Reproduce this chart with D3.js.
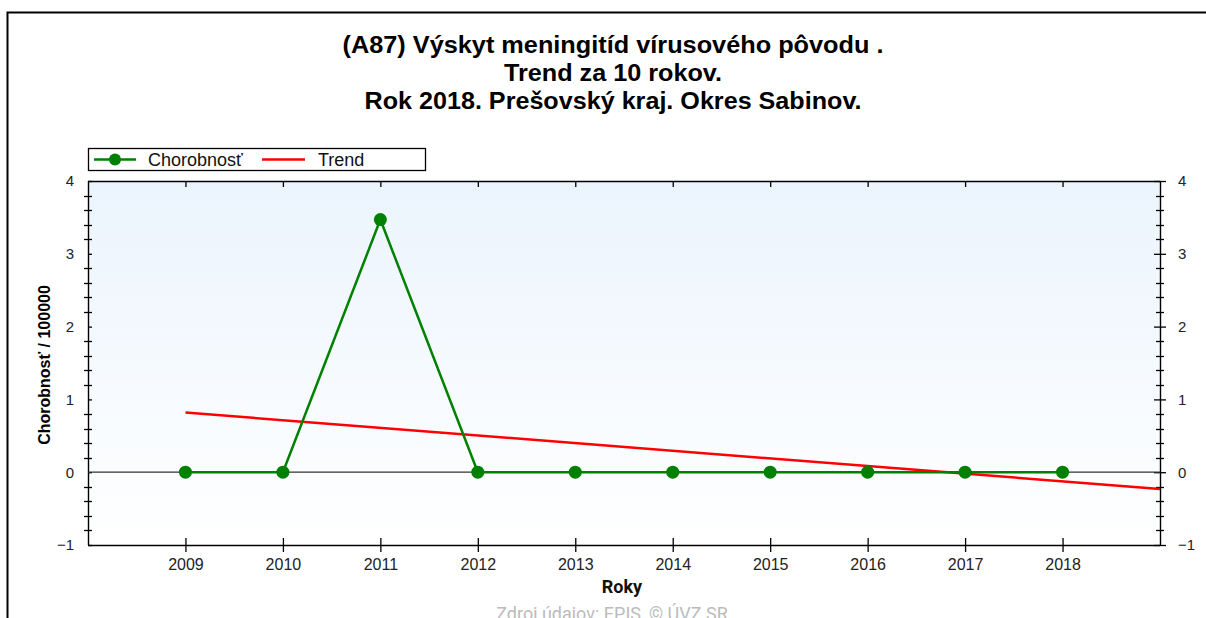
<!DOCTYPE html>
<html>
<head>
<meta charset="utf-8">
<script src="https://cdn.jsdelivr.net/npm/d3@7"></script>
<style>
  html, body { margin: 0; padding: 0; background: #ffffff; }
  svg { display: block; }
</style>
</head>
<body>
<svg id="chart" width="1206" height="618"></svg>
<script>
// Chart data
const years = [2009, 2010, 2011, 2012, 2013, 2014, 2015, 2016, 2017, 2018];
const incidence = [0, 0, 3.47, 0, 0, 0, 0, 0, 0, 0];
const trendYears = [2009, 2019];
const trendValues = [0.82, -0.23];
const yTicks = [-1, 0, 1, 2, 3, 4];
const titleLines = [
  "(A87) Výskyt meningitíd vírusového pôvodu .",
  "Trend za 10 rokov.",
  "Rok 2018. Prešovský kraj. Okres Sabinov."
];
const titleWidths = [541, 218, 497];

const svg = d3.select("#chart");
const W = 1206, H = 618;
const plot = { left: 88, right: 1160, top: 181, bottom: 545 };

const x = d3.scaleLinear().domain([2008, 2019]).range([plot.left, plot.right]);
const y = d3.scaleLinear().domain([-1, 4]).range([plot.bottom, plot.top]);

const font = "Liberation Sans, Arial, sans-serif";

// Outer frame
svg.append("path")
  .attr("d", `M7.5,${H} V12.5 H${W}`)
  .attr("fill", "none").attr("stroke", "#000").attr("stroke-width", 2);

// Title
svg.append("g").selectAll("text").data(titleLines).join("text")
  .attr("x", 613).attr("y", (d, i) => 53 + i * 28)
  .attr("text-anchor", "middle")
  .attr("font-family", font)
  .attr("font-weight", "bold").attr("font-size", 23)
  .attr("textLength", (d, i) => titleWidths[i])
  .attr("lengthAdjust", "spacingAndGlyphs")
  .attr("fill", "#000")
  .text(d => d);

// Plot background gradient
const defs = svg.append("defs");
const grad = defs.append("linearGradient").attr("id", "bg").attr("x1", 0).attr("y1", 0).attr("x2", 0).attr("y2", 1);
grad.append("stop").attr("offset", "0%").attr("stop-color", "#ebf4fd");
grad.append("stop").attr("offset", "100%").attr("stop-color", "#ffffff");
svg.append("rect")
  .attr("x", plot.left).attr("y", plot.top)
  .attr("width", plot.right - plot.left).attr("height", plot.bottom - plot.top)
  .attr("fill", "url(#bg)");

// Left axis
const leftAxis = d3.axisLeft(y).tickValues(yTicks).tickFormat(d3.format("d")).tickSize(8).tickPadding(6);
const gl = svg.append("g").attr("transform", `translate(${plot.left},0)`).call(leftAxis);
// Right axis
const rightAxis = d3.axisRight(y).tickValues(yTicks).tickFormat(d3.format("d")).tickSize(6).tickPadding(12);
const gr = svg.append("g").attr("transform", `translate(${plot.right},0)`).call(rightAxis);
// Bottom axis
const bottomAxis = d3.axisBottom(x).tickValues(years).tickFormat(d3.format("d")).tickSize(7).tickPadding(7);
const gb = svg.append("g").attr("transform", `translate(0,${plot.bottom})`).call(bottomAxis);
// Top axis (ticks pointing inward, no labels)
const topAxis = d3.axisBottom(x).tickValues(years).tickFormat("").tickSize(6);
const gt = svg.append("g").attr("transform", `translate(0,${plot.top})`).call(topAxis);

[gl, gr, gb, gt].forEach(g => {
  g.select(".domain").attr("stroke", "#000").attr("stroke-width", 1.4)
    .attr("d", g === gl || g === gr
      ? `M0.5,${plot.bottom}V${plot.top}`
      : `M${plot.left},0.5H${plot.right}`);
  g.selectAll(".tick line").attr("stroke", "#000").attr("stroke-width", 1.3);
  g.selectAll(".tick text").attr("font-family", font).attr("fill", "#222");
});
gl.selectAll(".tick text").attr("font-size", 15);
gr.selectAll(".tick text").attr("font-size", 15);
gb.selectAll(".tick text").attr("font-size", 16);
// Ticks cross the axis lines
gb.selectAll(".tick line").attr("y1", -7).attr("y2", 7);
gl.selectAll(".tick line").attr("x2", 4);
gr.selectAll(".tick line").attr("x1", -6);

// Minor ticks on both vertical axes
const minor = d3.range(-1, 4.0001, 0.2).map(v => +v.toFixed(1)).filter(v => !yTicks.includes(v));
[plot.left, plot.right].forEach(px => {
  svg.append("g").selectAll("line").data(minor).join("line")
    .attr("x1", px - 4).attr("x2", px + 4)
    .attr("y1", d => Math.round(y(d)) + 0.5).attr("y2", d => Math.round(y(d)) + 0.5)
    .attr("stroke", "#000").attr("stroke-width", 1.3);
});

// Zero line
svg.append("line")
  .attr("x1", plot.left).attr("x2", plot.right)
  .attr("y1", y(0)).attr("y2", y(0))
  .attr("stroke", "#333").attr("stroke-width", 1.3);

// Trend line
const line = d3.line().x(d => x(d[0])).y(d => y(d[1]));
svg.append("path")
  .datum(trendYears.map((yr, i) => [yr, trendValues[i]]))
  .attr("d", line)
  .attr("fill", "none").attr("stroke", "#ff0000").attr("stroke-width", 2.5);

// Incidence series
const series = years.map((yr, i) => [yr, incidence[i]]);
svg.append("path")
  .datum(series)
  .attr("d", line)
  .attr("fill", "none").attr("stroke", "#008000").attr("stroke-width", 2.5);
svg.append("g").selectAll("circle").data(series).join("circle")
  .attr("cx", d => x(d[0])).attr("cy", d => y(d[1])).attr("r", 6.5)
  .attr("fill", "#008000");

// Legend
const lg = svg.append("g");
lg.append("rect").attr("x", 88.5).attr("y", 148.5).attr("width", 337).attr("height", 22)
  .attr("fill", "#fff").attr("stroke", "#000").attr("stroke-width", 1.3);
lg.append("line").attr("x1", 94).attr("x2", 136).attr("y1", 159.5).attr("y2", 159.5)
  .attr("stroke", "#008000").attr("stroke-width", 2.5);
lg.append("circle").attr("cx", 115).attr("cy", 159.5).attr("r", 6).attr("fill", "#008000");
lg.append("text").attr("x", 148).attr("y", 166).attr("font-family", font).attr("font-size", 18)
  .attr("fill", "#111").text("Chorobnosť");
lg.append("line").attr("x1", 262).attr("x2", 305).attr("y1", 159.5).attr("y2", 159.5)
  .attr("stroke", "#ff0000").attr("stroke-width", 2.5);
lg.append("text").attr("x", 318).attr("y", 166).attr("font-family", font).attr("font-size", 18)
  .attr("fill", "#111").text("Trend");

// Axis titles
svg.append("text")
  .attr("transform", `translate(50,365) rotate(-90)`)
  .attr("text-anchor", "middle")
  .attr("font-family", font).attr("font-weight", "bold").attr("font-size", 16)
  .attr("fill", "#000").text("Chorobnosť / 100000");
svg.append("text")
  .attr("x", 622).attr("y", 593).attr("text-anchor", "middle")
  .attr("font-family", "Roboto, sans-serif").attr("font-weight", "bold").attr("font-size", 18)
  .attr("fill", "#111").text("Roky");

// Source note
svg.append("text")
  .attr("x", 612).attr("y", 620).attr("text-anchor", "middle")
  .attr("font-family", "Roboto, sans-serif").attr("font-size", 18)
  .attr("fill", "#bbbbbb").text("Zdroj údajov: EPIS, © ÚVZ SR");
</script>
</body>
</html>
